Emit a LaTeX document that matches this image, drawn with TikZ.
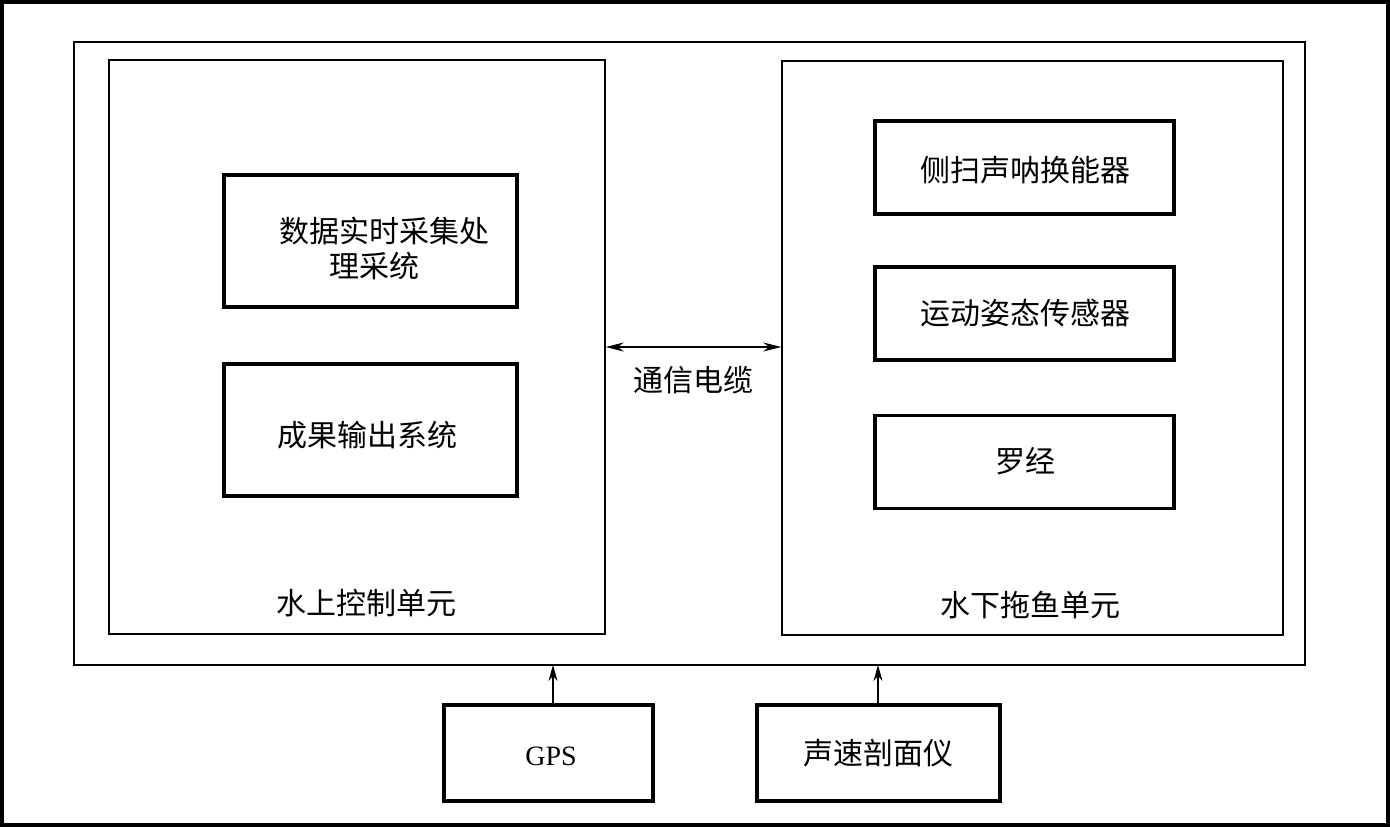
\documentclass[tikz,border=0pt]{standalone}
\usepackage{fontspec}
\setmainfont{Liberation Serif}
\newfontfamily\cjk{Noto Sans CJK SC}
\usetikzlibrary{arrows.meta}
\begin{document}
\begin{tikzpicture}[x=1pt,y=-1pt,
  frame/.style={draw,line width=1.5pt},
  blk/.style={draw,line width=3.2pt},
  lbl/.style={font=\cjk\fontsize{30}{36}\selectfont,inner sep=0pt},
  arr/.style={line width=1.3pt,-{Stealth[length=16pt,width=9pt]}}]
\useasboundingbox (0,0) rectangle (1390,827);
\draw[line width=4pt] (2,2) rectangle (1388,825);
% big frame
\draw[frame] (74,42) rectangle (1305,665);
\coordinate (bigB1) at (553,665);
\coordinate (bigB2) at (878,665);
% units
\node[frame,minimum width=496pt,minimum height=574pt,inner sep=0pt] (left) at (357,347) {};
\node[frame,minimum width=501pt,minimum height=574pt,inner sep=0pt] (right) at (1032.5,348) {};
% left boxes
\node[blk,minimum width=293pt,minimum height=132pt,inner sep=0pt] (daq) at (370.5,241) {};
\node[lbl] (daqt1) at (384,231) {数据实时采集处};
\node[lbl,anchor=west] (daqt2) at (329,266) {理采统};
\node[blk,minimum width=293pt,minimum height=132pt,inner sep=0pt] (out) at (370.5,430) {};
\node[lbl] (outt) at (367,435) {成果输出系统};
\node[lbl] (leftt) at (366,603) {水上控制单元};
% right boxes
\node[blk,minimum width=299pt,minimum height=93pt,inner sep=0pt] (sss) at (1024.5,167.5) {};
\node[lbl] (ssst) at (1025,170) {侧扫声呐换能器};
\node[blk,minimum width=299pt,minimum height=93pt,inner sep=0pt] (mru) at (1024.5,313.5) {};
\node[lbl] (mrut) at (1025,313) {运动姿态传感器};
\node[blk,minimum width=299pt,minimum height=93pt,inner sep=0pt] (gyro) at (1024.5,462) {};
\node[lbl] (gyrot) at (1025,461) {罗经};
\node[lbl] (rightt) at (1030,605) {水下拖鱼单元};
% cable arrow
\coordinate (cl) at (left.east |- 0,347);
\coordinate (cr) at (right.west |- 0,347);
\draw[line width=1.3pt,{Stealth[length=18pt,width=9pt]}-{Stealth[length=18pt,width=9pt]}] (cl) -- (cr);
\node[lbl] (cable) at (693,380) {通信电缆};
% bottom boxes
\node[blk,minimum width=209pt,minimum height=96pt,inner sep=0pt] (gps) at (548.5,753) {};
\node[font=\fontsize{28}{32}\selectfont,inner sep=0pt] (gpst) at (551,756) {GPS};
\node[blk,minimum width=243pt,minimum height=96pt,inner sep=0pt] (svp) at (878.5,753) {};
\node[lbl] (svpt) at (878,753) {声速剖面仪};
\draw[arr] (gps.north -| bigB1) -- (bigB1);
\draw[arr] (svp.north -| bigB2) -- (bigB2);
\end{tikzpicture}
\end{document}
